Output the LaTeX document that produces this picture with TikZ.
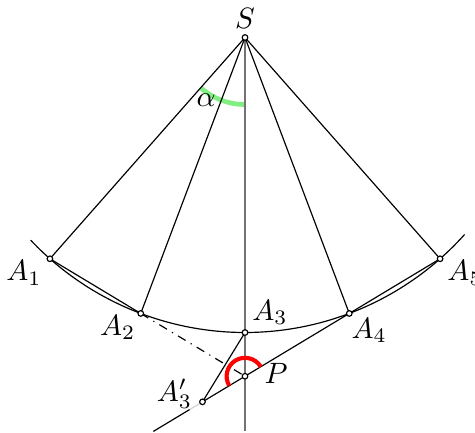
\documentclass[tikz,border=0pt]{standalone}
\usepackage{xcolor}
\definecolor{axis}{gray}{0.45}
\definecolor{anglegreen}{HTML}{80EE80}
\usepackage{tikz}
\usetikzlibrary{calc}

\begin{document}
\begin{tikzpicture}[
  x=0.34pt, y=0.34pt,
  pt/.style={draw=black, fill=white, line width=0.4pt},
  lbl/.style={inner sep=0pt}
]
  \useasboundingbox (-245,-394.5) rectangle (230,37.5);

  \coordinate (s) at (0,0);
  \foreach \i/\ang in {1/-131.4, 2/-110.7, 3/-90, 4/-69.3, 5/-48.6}
    \coordinate (a\i) at (\ang:295);
  \coordinate (p) at (intersection of a1--a2 and a5--a4);
  \coordinate (a3p) at ($(a5)!1.218!(p)$);
  \coordinate (g) at ($(a5)!1.284!(p)$);
  \coordinate (e) at ($(a5)!1.47!(p)$);
  \coordinate (bot) at (0,-393);

  \draw[anglegreen, line width=1.6pt] ($(s)+(-131.4:67)$) arc[start angle=-131.4, end angle=-90, radius=67];

  \draw (s) ++(-136.6:295) arc[start angle=-136.6, end angle=-41.9, radius=295];
  \draw[axis, line width=0.7pt] (s) -- (bot);
  \foreach \i in {1,2,4,5}
    \draw (s) -- (a\i);
  \draw (a1) -- (a2);
  \draw[dash dot] (a2) -- (p);
  \draw (a5) -- (a3p);
  \draw[gray!35] (a3p) -- (g);
  \draw (g) -- (e);
  \draw (a3) -- (a3p);

  \draw[red, line width=1.4pt] ($(p)+(31:18.4)$) arc[start angle=31, end angle=211, radius=18.4];

  \foreach \n in {s, a1, a2, a3, a4, a5, p, a3p}
    \draw[pt] (\n) circle (2.8);

  \node[lbl] (ls)   at ($(s)+(0,19.5)$)      {$S$};
  \node[lbl] (la1)  at ($(a1)+(-26,-14)$)    {$A_1$};
  \node[lbl] (la2)  at ($(a2)+(-23,-14)$)    {$A_2$};
  \node[lbl] (la3)  at ($(a3)+(25,20)$)      {$A_3$};
  \node[lbl] (la4)  at ($(a4)+(20,-17)$)     {$A_4$};
  \node[lbl] (la5)  at ($(a5)+(25,-14)$)     {$A_5$};
  \node[lbl] (lp)   at ($(p)+(31,3)$)        {$P$};
  \node[lbl] (la3p) at ($(a3p)+(-28,8)$)     {$A_3'$};
  \node[lbl] (lal)  at ($(s)+(-39,-63)$)     {$\alpha$};
\end{tikzpicture}
\end{document}
